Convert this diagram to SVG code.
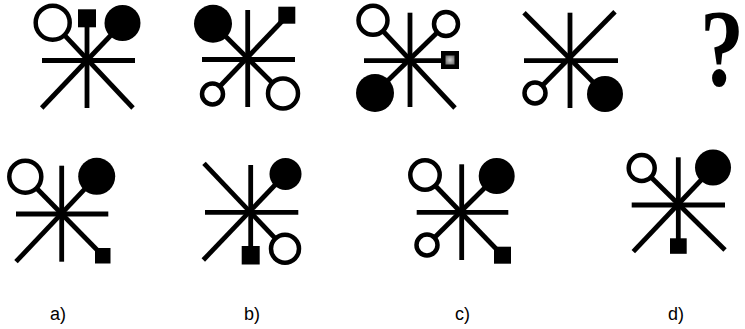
<svg xmlns="http://www.w3.org/2000/svg" width="745" height="329" viewBox="0 0 745 329">
<style>
.ln{stroke:#000;stroke-width:4.8;stroke-linecap:butt;fill:none}
.oc{fill:#fff;stroke:#000;stroke-width:4.5}
.fc{fill:#000}
.sq{fill:#000}
.lb{font-family:"Liberation Sans",Arial,sans-serif;font-size:18px;fill:#000}
</style>
<defs>
<radialGradient id="g1" cx="0.5" cy="0.5" r="0.6">
<stop offset="0" stop-color="#d0d0d0"/>
<stop offset="1" stop-color="#707070"/>
</radialGradient>
</defs>
<rect width="745" height="329" fill="#fff"/>
<g id="fig1">
<line class="ln" x1="42" y1="60.5" x2="135" y2="60.5"/>
<line class="ln" x1="87" y1="26" x2="87" y2="108"/>
<line class="ln" x1="52.7" y1="22.7" x2="133" y2="108"/>
<line class="ln" x1="122.5" y1="23" x2="41.7" y2="108"/>
<circle class="oc" cx="52.7" cy="22.7" r="17"/>
<circle class="fc" cx="122.5" cy="23" r="18"/>
<rect class="sq" x="78" y="9.3" width="18" height="18"/>
</g>
<g id="fig2">
<line class="ln" x1="202" y1="59.5" x2="295" y2="59.5"/>
<line class="ln" x1="247.7" y1="10" x2="247.7" y2="107"/>
<line class="ln" x1="213" y1="23.7" x2="283" y2="93.5"/>
<line class="ln" x1="287" y1="16" x2="212.5" y2="94"/>
<circle class="fc" cx="213" cy="23.7" r="19"/>
<rect class="sq" x="278.3" y="6.7" width="17" height="17"/>
<circle class="oc" cx="212.5" cy="94" r="10.5"/>
<circle class="oc" cx="283" cy="93.5" r="15"/>
</g>
<g id="fig3">
<line class="ln" x1="364" y1="60.7" x2="443" y2="60.7"/>
<line class="ln" x1="410" y1="12.7" x2="410" y2="107"/>
<line class="ln" x1="373" y1="20.3" x2="455" y2="108"/>
<line class="ln" x1="446" y1="24" x2="375" y2="93"/>
<circle class="oc" cx="373" cy="20.3" r="14.5"/>
<circle class="oc" cx="446" cy="24" r="12"/>
<circle class="fc" cx="375" cy="93" r="19"/>
<rect class="sq" x="441" y="51" width="18" height="18"/>
<rect x="445.5" y="55.5" width="9" height="9" fill="url(#g1)"/>
</g>
<g id="fig4">
<line class="ln" x1="524" y1="60.7" x2="618" y2="60.7"/>
<line class="ln" x1="570" y1="12.7" x2="570" y2="108"/>
<line class="ln" x1="524" y1="12.7" x2="605" y2="94"/>
<line class="ln" x1="615" y1="11.7" x2="535" y2="93"/>
<circle class="oc" cx="535" cy="93" r="10.5"/>
<circle class="fc" cx="605" cy="94" r="18"/>
</g>
<g id="question">
<text transform="translate(722,85) scale(0.8,1)" text-anchor="middle" font-family="'Liberation Serif','Times New Roman',serif" font-weight="bold" font-size="110" fill="#000">?</text>
</g>
<g id="optA">
<line class="ln" x1="16" y1="214" x2="108.3" y2="214"/>
<line class="ln" x1="61.7" y1="165.7" x2="61.7" y2="261.7"/>
<line class="ln" x1="25.3" y1="176.7" x2="102.5" y2="255.5"/>
<line class="ln" x1="96.7" y1="176.3" x2="16" y2="261.7"/>
<circle class="oc" cx="25.3" cy="176.7" r="16"/>
<circle class="fc" cx="96.7" cy="176.3" r="18.5"/>
<rect class="sq" x="95" y="248" width="15.5" height="15.5"/>
</g>
<g id="optB">
<line class="ln" x1="205" y1="212.3" x2="298.3" y2="212.3"/>
<line class="ln" x1="250.7" y1="165" x2="250.7" y2="250"/>
<line class="ln" x1="204" y1="163.3" x2="285" y2="248.7"/>
<line class="ln" x1="285.5" y1="174" x2="203.3" y2="260"/>
<circle class="fc" cx="285.5" cy="174" r="16"/>
<circle class="oc" cx="285" cy="248.7" r="14"/>
<rect class="sq" x="241.7" y="246" width="18" height="18.5"/>
</g>
<g id="optC">
<line class="ln" x1="416.7" y1="212.3" x2="508.3" y2="212.3"/>
<line class="ln" x1="461.7" y1="164.3" x2="461.7" y2="260"/>
<line class="ln" x1="425" y1="175" x2="502" y2="255"/>
<line class="ln" x1="496.7" y1="176" x2="427" y2="245"/>
<circle class="oc" cx="425" cy="175" r="14.7"/>
<circle class="fc" cx="496.7" cy="176" r="18"/>
<circle class="oc" cx="427" cy="245" r="10.5"/>
<rect class="sq" x="494" y="246.7" width="17" height="17"/>
</g>
<g id="optD">
<line class="ln" x1="631.7" y1="205" x2="725" y2="205"/>
<line class="ln" x1="678.3" y1="157.3" x2="678.3" y2="240"/>
<line class="ln" x1="641.7" y1="168" x2="725" y2="250"/>
<line class="ln" x1="713" y1="167.5" x2="633.3" y2="251.7"/>
<circle class="oc" cx="641.7" cy="168" r="13"/>
<circle class="fc" cx="713" cy="167.5" r="18"/>
<rect class="sq" x="670" y="238.3" width="16.7" height="15.5"/>
</g>
<g id="labels">
<text class="lb" x="50" y="320">a)</text>
<text class="lb" x="244" y="320">b)</text>
<text class="lb" x="455" y="320">c)</text>
<text class="lb" x="668" y="320">d)</text>
</g>
</svg>
